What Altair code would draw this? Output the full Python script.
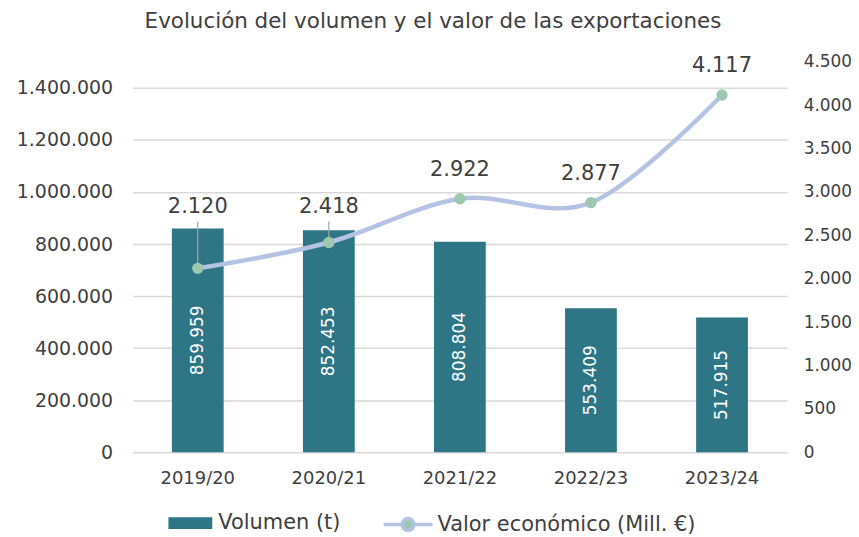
import altair as alt
import pandas as pd

years = ["2019/20", "2020/21", "2021/22", "2022/23", "2023/24"]
volumen = [859959, 852453, 808804, 553409, 517915]
valor = [2120, 2418, 2922, 2877, 4117]

left_ticks = [0, 200000, 400000, 600000, 800000, 1000000, 1200000, 1400000]
right_ticks = [0, 500, 1000, 1500, 2000, 2500, 3000, 3500, 4000, 4500]

FONT = "DejaVu Sans"
TXT = "#404040"
BAR = "#2E7585"
LINE = "#B4C3E4"
PT = "#9DC8AF"

df = pd.DataFrame({"year": years, "volumen": volumen, "valor": valor,
                   "s1": "Volumen (t)", "s2": "Valor económico (Mill. €)"})

dot_fmt = "replace(format({v}, ','), regexp(',', 'g'), '.')"

x = alt.X("year:N", sort=years, title=None,
          scale=alt.Scale(paddingInner=0.605, paddingOuter=0.3),
          axis=alt.Axis(labelAngle=0, labelPadding=17, domain=False, ticks=False,
                        labelFontSize=18, labelColor=TXT, labelFont=FONT))

base = alt.Chart(df)

bars = base.mark_bar(color=BAR).encode(
    x=x,
    y=alt.Y("volumen:Q", title=None,
            scale=alt.Scale(domain=[0, 1500000], nice=False),
            axis=alt.Axis(values=left_ticks, orient="left", domain=False, ticks=False,
                          grid=True, gridColor="#D9D9D9", gridWidth=1.5,
                          labelPadding=20, labelFontSize=19, labelColor=TXT, labelFont=FONT,
                          labelExpr=dot_fmt.format(v="datum.value"))),
    color=alt.Color("s1:N", scale=alt.Scale(domain=["Volumen (t)"], range=[BAR]),
                    legend=alt.Legend(title=None, orient="none", legendX=35, legendY=440,
                                      symbolType="M-1,-0.27H1V0.27H-1Z", symbolSize=1936,
                                      labelFontSize=21, labelColor=TXT, labelFont=FONT,
                                      labelOffset=5, labelLimit=400)),
)

bar_labels = base.transform_calculate(
    mid="datum.volumen / 2",
    lbl=dot_fmt.format(v="datum.volumen"),
).mark_text(angle=270, color="white", fontSize=17, font=FONT, baseline="middle", align="center").encode(
    x=alt.X("year:N", sort=years),
    y=alt.Y("mid:Q"),
    text="lbl:N",
)

left = alt.layer(bars, bar_labels)

line = base.mark_line(interpolate="cardinal", strokeWidth=4.5).encode(
    x=alt.X("year:N", sort=years),
    y=alt.Y("valor:Q", title=None,
            scale=alt.Scale(domain=[0, 4500], nice=False),
            axis=alt.Axis(values=right_ticks, orient="right", domain=False, ticks=False,
                          grid=False, labelAlign="left", labelPadding=16,
                          labelFontSize=17, labelColor=TXT, labelFont=FONT,
                          labelExpr=dot_fmt.format(v="datum.value"))),
    stroke=alt.Stroke("s2:N", scale=alt.Scale(domain=["Valor económico (Mill. €)"], range=[LINE]),
                      legend=alt.Legend(title=None, orient="none", legendX=250, legendY=438,
                                        symbolType="M-1,0H-0.245M0.245,0H1M-0.245,0A0.245,0.245 0 1,1 0.245,0A0.245,0.245 0 1,1 -0.245,0",
                                        symbolSize=2401, symbolStrokeWidth=3.5,
                                        symbolFillColor=PT,
                                        labelFontSize=21, labelColor=TXT, labelFont=FONT,
                                        labelOffset=3, labelLimit=400)),
)

points = base.mark_circle(size=130, color=PT, opacity=1).encode(
    x=alt.X("year:N", sort=years),
    y=alt.Y("valor:Q"),
)

leaders = base.transform_filter("datum.valor < 2500").transform_calculate(
    top="2660",
).mark_rule(color="#A6A6A6", strokeWidth=1.2).encode(
    x=alt.X("year:N", sort=years),
    y=alt.Y("valor:Q"),
    y2="top:Q",
)

labels_lo = base.transform_filter("datum.valor < 2500").transform_calculate(
    pos="2830",
    lbl=dot_fmt.format(v="datum.valor"),
).mark_text(fontSize=21, font=FONT, color=TXT, baseline="middle").encode(
    x=alt.X("year:N", sort=years),
    y=alt.Y("pos:Q"),
    text="lbl:N",
)

labels_hi = base.transform_filter("datum.valor >= 2500").transform_calculate(
    lbl=dot_fmt.format(v="datum.valor"),
).mark_text(fontSize=21, font=FONT, color=TXT, baseline="middle", dy=-29).encode(
    x=alt.X("year:N", sort=years),
    y=alt.Y("valor:Q"),
    text="lbl:N",
)

right = alt.layer(line, leaders, points, labels_lo, labels_hi)

chart = alt.layer(left, right).resolve_scale(y="independent", color="independent").properties(
    width=657,
    height=392,
    background="white",
    autosize=alt.AutoSizeParams(type="none"),
    padding={"left": 125, "top": 53, "right": 64, "bottom": 82},
    title=alt.Title("Evolución del volumen y el valor de las exportaciones",
                    fontSize=21.5, font=FONT, color=TXT, fontWeight="normal",
                    anchor="middle", offset=20, dx=-27),
).configure_view(stroke=None)

chart.save("out.html", embed_options={"renderer": "svg", "actions": False})
